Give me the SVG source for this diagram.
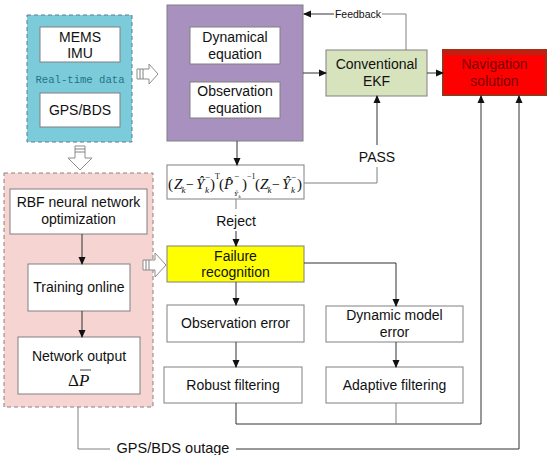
<svg xmlns="http://www.w3.org/2000/svg" width="550" height="455" viewBox="0 0 550 455">
<style>
.box{fill:#fff;stroke:#808080;stroke-width:1}
.t{font-family:"Liberation Sans",Arial,sans-serif;font-size:14px;fill:#111;text-anchor:middle}
.ln{fill:none;stroke:#808080;stroke-width:1}
.ar{fill:none;stroke:#333;stroke-width:1;marker-end:url(#ah)}
.hol{fill:#fff;stroke:#8c8c8c;stroke-width:1}
.m{font-family:"Liberation Serif","Times New Roman",serif;font-style:italic;fill:#111}
.mu{font-family:"Liberation Serif","Times New Roman",serif;fill:#111}
</style>
<defs>
<marker id="ah" markerWidth="8" markerHeight="8" refX="7" refY="4" orient="auto" markerUnits="userSpaceOnUse">
<path d="M0,0.5 L8,4 L0,7.5 Z" fill="#111"/>
</marker>
</defs>
<rect width="550" height="455" fill="#fff"/>

<g id="sensors">
<rect x="27" y="15" width="105" height="127" fill="#7ccbdb" stroke="#5a7f88" stroke-dasharray="4,3"/>
<rect class="box" x="40" y="27" width="80" height="35"/>
<text class="t" x="80" y="42">MEMS</text>
<text class="t" x="80" y="58">IMU</text>
<text x="80" y="83" font-family="'Liberation Mono','Courier New',monospace" font-size="10.6" fill="#1d7585" text-anchor="middle">Real-time data</text>
<rect class="box" x="40" y="93" width="80" height="34"/>
<text class="t" x="80" y="115">GPS/BDS</text>
</g>

<g id="model">
<rect x="167" y="5" width="136" height="136" fill="#a891bf" stroke="#808080"/>
<rect class="box" x="190" y="27" width="90" height="37"/>
<text class="t" x="235" y="42">Dynamical</text>
<text class="t" x="235" y="59">equation</text>
<rect class="box" x="190" y="82" width="90" height="36"/>
<text class="t" x="235" y="96">Observation</text>
<text class="t" x="235" y="113">equation</text>
</g>

<g id="ekf">
<rect x="326" y="50" width="101" height="46" fill="#d7e3bd" stroke="#808080"/>
<text class="t" x="376.5" y="69">Conventional</text>
<text class="t" x="376.5" y="86">EKF</text>
</g>

<g id="nav">
<rect x="443" y="50" width="103" height="45" fill="#ff0000" stroke="#a0301a" stroke-width="2"/>
<rect x="443" y="50" width="103" height="5" fill="#c0200f"/>
<text class="t" x="494.5" y="69" style="fill:#7a0000">Navigation</text>
<text class="t" x="494.5" y="86" style="fill:#7a0000">solution</text>
</g>

<g id="test">
<rect class="box" x="167" y="165" width="137" height="34"/>
<text class="mu" x="168" y="189" font-size="15">(</text>
<text class="m" x="174" y="189" font-size="15">Z</text>
<text class="m" x="181.5" y="193" font-size="9">k</text>
<text class="mu" x="186" y="189" font-size="14">−</text>
<text class="m" x="196" y="189" font-size="15">Ŷ</text>
<text class="mu" x="205" y="180" font-size="9">−</text>
<text class="m" x="205" y="193" font-size="9">k</text>
<text class="mu" x="210" y="189" font-size="15">)</text>
<text class="mu" x="215" y="179" font-size="8">T</text>
<text class="mu" x="219" y="189" font-size="15">(</text>
<text class="m" x="224" y="189" font-size="15">P̂</text>
<text class="mu" x="234" y="179" font-size="9">−</text>
<text class="m" x="234" y="196" font-size="7">Ŷ</text>
<text class="m" x="238.5" y="198" font-size="5">k</text>
<text class="mu" x="242" y="189" font-size="15">)</text>
<text class="mu" x="247" y="179" font-size="8">−1</text>
<text class="mu" x="255" y="189" font-size="15">(</text>
<text class="m" x="260" y="189" font-size="15">Z</text>
<text class="m" x="267.5" y="193" font-size="9">k</text>
<text class="mu" x="272" y="189" font-size="14">−</text>
<text class="m" x="282" y="189" font-size="15">Ŷ</text>
<text class="mu" x="291" y="180" font-size="9">−</text>
<text class="m" x="291" y="193" font-size="9">k</text>
<text class="mu" x="297" y="189" font-size="15">)</text>
</g>

<g id="failure">
<rect x="167" y="246" width="137" height="36" fill="#ffff00" stroke="#808080"/>
<text class="t" x="235.5" y="261">Failure</text>
<text class="t" x="235.5" y="277">recognition</text>
</g>

<g id="obserr">
<rect class="box" x="167" y="305" width="137" height="37"/>
<text class="t" x="235.5" y="328">Observation error</text>
</g>

<g id="dynerr">
<rect class="box" x="326" y="306" width="137" height="36"/>
<text class="t" x="394.5" y="320">Dynamic model</text>
<text class="t" x="394.5" y="337">error</text>
</g>

<g id="robust">
<rect class="box" x="164" y="367" width="138" height="36"/>
<text class="t" x="233" y="390">Robust filtering</text>
</g>

<g id="adaptive">
<rect class="box" x="326" y="367" width="137" height="36"/>
<text class="t" x="394.5" y="390">Adaptive filtering</text>
</g>

<g id="rbf">
<rect x="4" y="173" width="149" height="234" fill="#f5d4d1" stroke="#8c8080" stroke-dasharray="4,3"/>
<rect class="box" x="10" y="189" width="137" height="45"/>
<text class="t" x="78.5" y="207">RBF neural network</text>
<text class="t" x="78.5" y="224">optimization</text>
<rect class="box" x="28" y="264" width="102" height="47"/>
<text class="t" x="79" y="292">Training online</text>
<rect class="box" x="18" y="337" width="122" height="57"/>
<text class="t" x="79" y="361">Network output</text>
<text class="mu" x="68" y="386" font-size="17">Δ</text>
<text class="m" x="79" y="386" font-size="17">P</text>
<line x1="80" y1="370" x2="91" y2="370" stroke="#111" stroke-width="0.8"/>
</g>

<g id="connectors">
<line class="ar" x1="303" y1="73" x2="326" y2="73"/>
<line class="ar" x1="427" y1="73" x2="443" y2="73"/>
<polyline class="ln" points="406,50 406,14 382,14"/>
<line class="ar" x1="334" y1="14" x2="304" y2="14"/>
<text x="358" y="18" font-family="'Liberation Sans',Arial,sans-serif" font-size="10.5" fill="#111" text-anchor="middle">Feedback</text>
<line class="ar" x1="237" y1="141" x2="237" y2="165"/>
<polyline class="ln" points="304,183 377,183 377,167"/>
<text class="t" x="377" y="162">PASS</text>
<line class="ar" x1="377" y1="145" x2="377" y2="96"/>
<line class="ln" x1="236" y1="199" x2="236" y2="209"/>
<text class="t" x="236" y="226">Reject</text>
<line class="ar" x1="236" y1="231" x2="236" y2="246"/>
<line class="ar" x1="236" y1="282" x2="236" y2="305"/>
<polyline class="ar" points="304,263 396,263 396,306"/>
<line class="ar" x1="236" y1="342" x2="236" y2="367"/>
<line class="ar" x1="396" y1="342" x2="396" y2="367"/>
<line class="ar" x1="82" y1="234" x2="82" y2="264"/>
<line class="ar" x1="82" y1="311" x2="82" y2="337"/>
<polyline class="ar" points="236,403 236,424 481,424 481,96"/>
<line class="ln" x1="396" y1="403" x2="396" y2="424"/>
<polyline class="ln" points="78,407 78,449 110,449"/>
<text x="173" y="453" font-family="'Liberation Sans',Arial,sans-serif" font-size="14.5" fill="#111" text-anchor="middle">GPS/BDS outage</text>
<polyline class="ar" points="236,449 519,449 519,96"/>
<polygon class="hol" points="137,69 149,69 149,64 158,74 149,84 149,79 137,79"/>
<line class="ln" x1="140" y1="69" x2="140" y2="79"/>
<line class="ln" x1="143" y1="69" x2="143" y2="79"/>
<polygon class="hol" points="75,146 85,146 85,158 92,158 80,170 68,158 75,158"/>
<line class="ln" x1="75" y1="149" x2="85" y2="149"/>
<line class="ln" x1="75" y1="152" x2="85" y2="152"/>
<polygon class="hol" points="143,260 155,260 155,253 166,265 155,277 155,270 143,270"/>
<line class="ln" x1="146" y1="260" x2="146" y2="270"/>
<line class="ln" x1="149" y1="260" x2="149" y2="270"/>
</g>
</svg>
